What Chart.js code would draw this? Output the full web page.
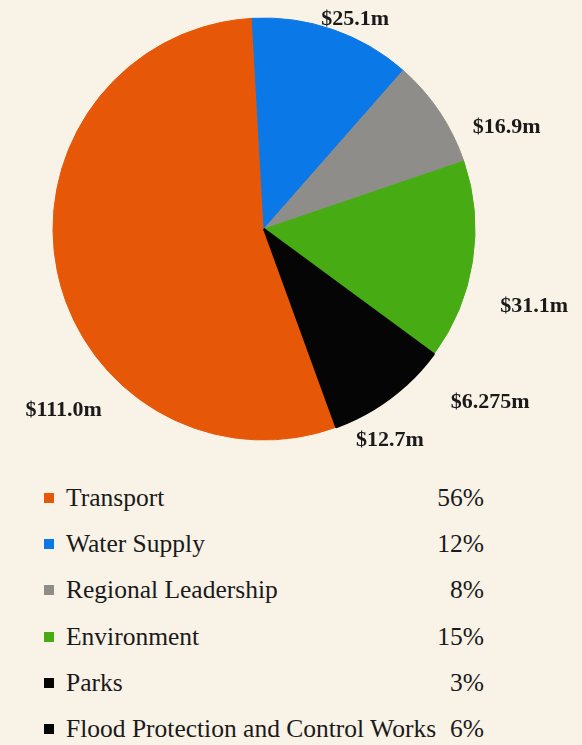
<!DOCTYPE html>
<html>
<head>
<meta charset="utf-8">
<script src="https://cdn.jsdelivr.net/npm/chart.js@4/dist/chart.umd.min.js"></script>
<style>
  body { margin: 0; background: #f9f2e7; }
  #wrap { position: relative; width: 582px; height: 745px; overflow: hidden; }
  #pie { position: absolute; left: 0; top: 0; }
  #legend { position: absolute; left: 44px; top: 475px; width: 440px;
            font-family: "Liberation Serif", "DejaVu Serif", serif; font-size: 25.5px; color: #1a1a1a; }
  .row { position: relative; height: 46.2px; line-height: 46px; }
  .box { position: absolute; left: 0; top: 18px; width: 10px; height: 10px; }
  .name { position: absolute; left: 22px; white-space: nowrap; }
  .pct { position: absolute; right: 0; }
</style>
</head>
<body>
<div id="wrap">
  <canvas id="pie" width="582" height="460"></canvas>
  <div id="legend"></div>
</div>
<script>
var categories = ["Transport", "Water Supply", "Regional Leadership", "Environment", "Parks", "Flood Protection and Control Works"];
var amounts = [111.0, 25.1, 16.9, 31.1, 6.275, 12.7];
var amountLabels = ["$111.0m", "$25.1m", "$16.9m", "$31.1m", "$6.275m", "$12.7m"];
var percents = ["56%", "12%", "8%", "15%", "3%", "6%"];
var colours = ["#e65708", "#0a78e6", "#8f8d89", "#47ab14", "#050505", "#050505"];

// where each amount label sits: fraction along its slice, distance past the rim
var labelPlace = [[0.345, 59], [0.6, 18], [0.87, 52], [0.63, 70], [0.1, 74], [0.52, 35]];

var amountLabelPlugin = {
  id: 'amountLabels',
  afterDatasetsDraw: function (chart) {
    var ctx = chart.ctx;
    var arcs = chart.getDatasetMeta(0).data;
    ctx.save();
    ctx.font = "bold 22px 'Liberation Serif', serif";
    ctx.fillStyle = "#1a1a1a";
    ctx.textAlign = "center";
    ctx.textBaseline = "middle";
    arcs.forEach(function (arc, i) {
      var p = arc.getProps(['x', 'y', 'startAngle', 'endAngle', 'outerRadius'], true);
      var a = p.startAngle + labelPlace[i][0] * (p.endAngle - p.startAngle);
      var d = p.outerRadius + labelPlace[i][1];
      ctx.fillText(amountLabels[i], p.x + Math.cos(a) * d, p.y + Math.sin(a) * d);
    });
    ctx.restore();
  }
};

var ctx = document.getElementById("pie").getContext('2d');
var myPie = new Chart(ctx, {
  type: 'pie',
  data: {
    labels: categories,
    datasets: [{
      data: amounts,
      backgroundColor: colours,
      borderColor: colours,
      borderWidth: [1, 1, 1, 1, 2, 2]
    }]
  },
  options: {
    responsive: false,
    animation: false,
    rotation: 160,
    layout: { padding: { left: 52, right: 106, top: 17, bottom: 19 } },
    plugins: {
      legend: { display: false },
      tooltip: { enabled: false }
    }
  },
  plugins: [amountLabelPlugin]
});

var legend = document.getElementById("legend");
categories.forEach(function (name, i) {
  var row = document.createElement("div");
  row.className = "row";
  row.innerHTML = '<span class="box" style="background:' + colours[i] + '"></span>' +
    '<span class="name">' + name + '</span><span class="pct">' + percents[i] + '</span>';
  legend.appendChild(row);
});
</script>
</body>
</html>
